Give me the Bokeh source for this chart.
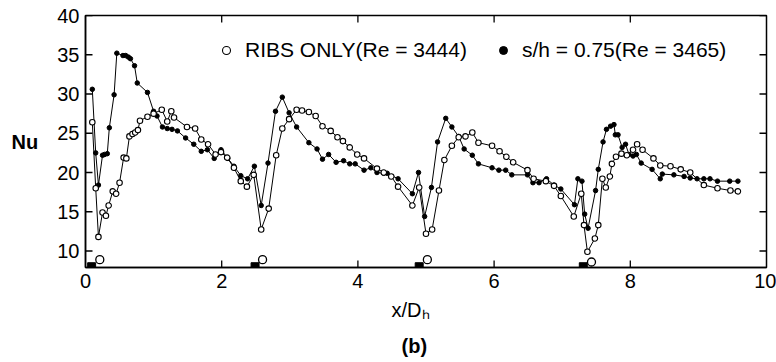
from bokeh.plotting import figure
from bokeh.models import (FixedTicker, Range1d, Legend, LegendItem,
                          ColumnDataSource, Title)
from bokeh.embed import file_html
from bokeh.resources import INLINE

# ---- data ----
ribs_x = [0.10, 0.15, 0.19, 0.25, 0.30, 0.34, 0.40, 0.45, 0.50, 0.56, 0.60, 0.645, 0.69, 0.73,
          0.77, 0.80, 0.91, 1.00, 1.12, 1.20, 1.26, 1.30, 1.49, 1.61, 1.70, 1.80, 1.91, 1.99,
          2.08, 2.18, 2.28, 2.37, 2.47, 2.58, 2.69, 2.80, 2.89, 2.99, 3.10, 3.18, 3.28, 3.38,
          3.48, 3.60, 3.70, 3.78, 3.88, 3.99, 4.09, 4.28, 4.38, 4.49, 4.59, 4.80, 4.90, 5.00,
          5.09, 5.19, 5.27, 5.38, 5.48, 5.58, 5.68, 5.77, 5.97, 6.08, 6.18, 6.28, 6.49, 6.58,
          6.76, 6.88, 6.98, 7.17, 7.28, 7.32, 7.37, 7.48, 7.53, 7.59, 7.64, 7.70, 7.73, 7.79,
          7.87, 7.95, 8.04, 8.10, 8.18, 8.34, 8.44, 8.59, 8.74, 8.88, 9.08, 9.28, 9.47, 9.58]
ribs_nu = [26.4, 18.0, 11.8, 14.9, 14.5, 15.8, 17.6, 17.3, 18.7, 21.9, 21.8, 24.6, 24.9, 25.1,
           25.4, 26.6, 27.1, 27.5, 28.0, 26.5, 27.8, 27.0, 25.8, 25.6, 24.2, 23.6, 22.3, 22.6,
           21.9, 20.6, 18.9, 18.2, 19.7, 12.75, 15.4, 22.2, 25.6, 26.8, 28.0, 27.9, 27.7, 27.2,
           25.9, 25.3, 24.5, 24.0, 23.2, 22.3, 21.8, 20.5, 20.0, 19.5, 18.2, 15.8, 18.1, 12.2,
           12.75, 17.7, 21.6, 23.4, 24.5, 24.6, 25.1, 23.8, 23.4, 22.7, 22.0, 21.3, 20.3, 19.2,
           18.9, 18.3, 17.0, 14.4, 17.3, 13.3, 9.9, 11.6, 13.3, 19.2, 18.1, 19.5, 21.1, 22.0,
           22.4, 22.2, 22.9, 23.6, 22.9, 21.8, 20.9, 20.8, 20.4, 20.0, 18.4, 18.0, 17.7, 17.6]

sh_x = [0.10, 0.15, 0.19, 0.25, 0.28, 0.32, 0.35, 0.42, 0.46, 0.55, 0.59, 0.63, 0.66, 0.72,
        0.76, 0.91, 1.00, 1.05, 1.13, 1.20, 1.27, 1.35, 1.47, 1.59, 1.70, 1.79, 1.89, 1.99,
        2.09, 2.18, 2.28, 2.38, 2.48, 2.58, 2.68, 2.79, 2.89, 2.99, 3.10, 3.28, 3.40, 3.48,
        3.57, 3.68, 3.79, 3.88, 3.96, 4.09, 4.19, 4.28, 4.38, 4.43, 4.59, 4.80, 4.89, 4.98,
        5.08, 5.17, 5.29, 5.38, 5.48, 5.56, 5.68, 5.77, 5.97, 6.07, 6.17, 6.26, 6.49, 6.57,
        6.66, 6.77, 6.88, 6.98, 7.18, 7.23, 7.29, 7.33, 7.38, 7.49, 7.53, 7.60, 7.65, 7.71,
        7.76, 7.78, 7.82, 7.88, 7.93, 7.98, 8.04, 8.09, 8.16, 8.32, 8.44, 8.47, 8.64, 8.79,
        8.88, 8.98, 9.08, 9.17, 9.28, 9.46, 9.58]
sh_nu = [30.6, 22.5, 18.4, 22.2, 22.3, 22.4, 25.7, 29.9, 35.2, 34.9, 34.9, 34.7, 34.5, 33.6,
         31.4, 30.2, 27.8, 27.2, 25.8, 25.6, 25.5, 25.3, 24.4, 23.6, 22.7, 22.9, 21.8, 22.9,
         21.8, 20.8, 19.6, 19.2, 20.8, 15.8, 21.2, 27.8, 29.6, 27.6, 25.8, 23.8, 23.0, 21.7,
         22.3, 21.3, 21.5, 21.1, 21.1, 20.3, 20.6, 20.0, 19.9, 19.9, 19.2, 17.3, 20.0, 14.4,
         18.1, 23.9, 26.9, 25.8, 24.6, 23.0, 22.2, 21.1, 20.6, 20.3, 20.3, 19.7, 19.7, 18.7,
         18.7, 19.2, 18.4, 17.9, 15.9, 19.2, 18.9, 14.7, 12.9, 17.7, 20.4, 23.9, 25.5, 25.9,
         26.1, 24.8, 24.8, 23.2, 23.6, 22.3, 22.1, 22.3, 21.2, 20.4, 19.2, 19.8, 19.7, 19.5,
         19.3, 19.2, 19.2, 19.2, 18.9, 18.9, 18.9]

rib_pos = [0.09, 2.49, 4.90, 7.31]
rib_base = [8.0, 8.0, 8.0, 8.0]
mark_x = [0.21, 2.60, 5.02, 7.43]
mark_y = [8.9, 8.9, 8.9, 8.6]

x_ticks = [0, 2, 4, 6, 8, 10]
y_ticks = [10, 15, 20, 25, 30, 35, 40]
x_lim = [0, 10]
y_lim = [7.9, 40]
label_ribs = "RIBS ONLY(Re = 3444)"
label_sh = "s/h = 0.75(Re = 3465)"
y_title = "Nu"
x_title = "x/D\u2095"
panel_title = "(b)"

FONT = "Liberation Sans"
FRAME_W, FRAME_H = 681, 254
TICK_PX = 7

p = figure(width=776, height=362, output_backend="svg", toolbar_location=None,
           x_range=Range1d(*x_lim), y_range=Range1d(*y_lim),
           min_border_left=85, min_border_right=10, min_border_top=15, min_border_bottom=93)
p.grid.visible = False
p.outline_line_color = "black"
p.outline_line_width = 1.5
p.background_fill_color = "white"
p.border_fill_color = "white"

for ax, ticks in ((p.xaxis[0], x_ticks), (p.yaxis[0], y_ticks)):
    ax.ticker = FixedTicker(ticks=ticks)
    ax.major_tick_in = 0
    ax.major_tick_out = 0
    ax.minor_tick_line_color = None
    ax.axis_line_color = "black"
    ax.axis_line_width = 1.5
    ax.major_label_text_font = FONT
    ax.major_label_text_font_size = "20px"
    ax.major_label_text_color = "black"
    ax.major_label_standoff = 6

yax = p.yaxis[0]
yax.axis_label = y_title
yax.axis_label_orientation = "horizontal"
yax.axis_label_text_font = FONT
yax.axis_label_text_font_size = "20px"
yax.axis_label_text_font_style = "bold"
yax.axis_label_text_color = "black"
yax.axis_label_standoff = 16

# inward tick marks on all four sides, built from the tick lists and the ranges
dy = TICK_PX * (y_lim[1] - y_lim[0]) / FRAME_H
dx = TICK_PX * (x_lim[1] - x_lim[0]) / FRAME_W
xt = x_ticks[1:-1]
p.segment(x0=xt + xt, x1=xt + xt,
          y0=[y_lim[0]] * len(xt) + [y_lim[1]] * len(xt),
          y1=[y_lim[0] + dy] * len(xt) + [y_lim[1] - dy] * len(xt),
          line_color="black", line_width=1.3)
p.segment(x0=[x_lim[0]] * len(y_ticks) + [x_lim[1]] * len(y_ticks),
          x1=[x_lim[0] + dx] * len(y_ticks) + [x_lim[1] - dx] * len(y_ticks),
          y0=y_ticks + y_ticks, y1=y_ticks + y_ticks,
          line_color="black", line_width=1.3)

src_r = ColumnDataSource(dict(x=ribs_x, y=ribs_nu))
src_s = ColumnDataSource(dict(x=sh_x, y=sh_nu))

p.line("x", "y", source=src_s, line_color="black", line_width=1)
p.line("x", "y", source=src_r, line_color="black", line_width=1)
r_s = p.scatter("x", "y", source=src_s, marker="circle", size=4.5,
                fill_color="black", line_color="black")
r_r = p.scatter("x", "y", source=src_r, marker="circle", size=5.5,
                fill_color="white", line_color="black", line_width=1.1)

p.scatter(rib_pos, rib_base, marker="square", size=8, fill_color="black", line_color="black")
p.scatter(mark_x, mark_y, marker="circle", size=8, fill_color="white",
          line_color="black", line_width=1.3)

legend = Legend(items=[LegendItem(label=label_ribs, renderers=[r_r]),
                       LegendItem(label=label_sh, renderers=[r_s])],
                orientation="horizontal", location=(131, 205),
                label_text_font=FONT, label_text_font_size="21px", label_text_color="black",
                glyph_width=20, glyph_height=20, label_standoff=9, spacing=26,
                padding=0, margin=0, border_line_alpha=0, background_fill_alpha=0)
p.add_layout(legend)

t1 = Title(text=x_title, align="left", offset=306, text_font=FONT, text_font_size="20px",
           text_font_style="normal", text_color="black", standoff=12)
p.add_layout(t1, "below")
t2 = Title(text=panel_title, align="left", offset=316, text_font=FONT, text_font_size="20px",
           text_font_style="bold", text_color="black", standoff=12)
p.add_layout(t2, "below")

open("out.html", "w").write(file_html(p, INLINE))
